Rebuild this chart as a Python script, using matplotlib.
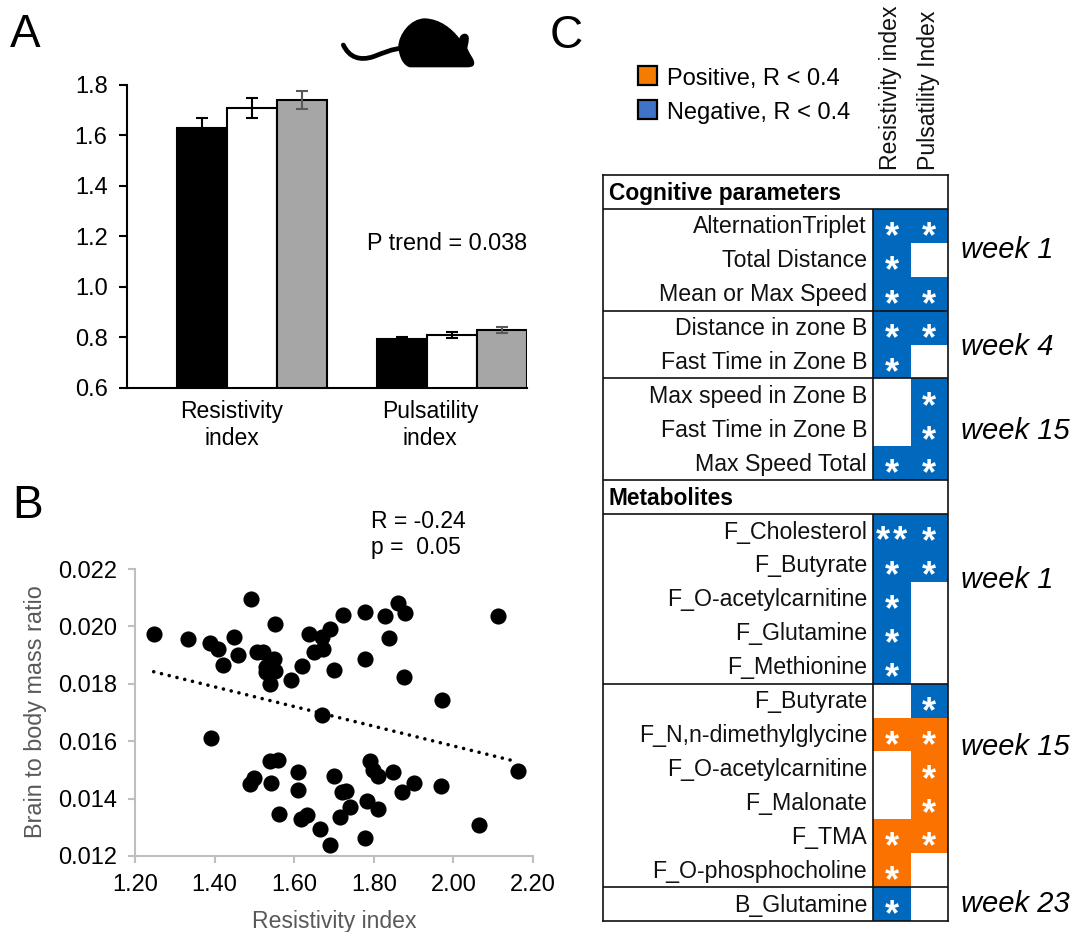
#!/usr/bin/env python3
"""Three panel figure: index bars (A), brain/body scatter (B), correlation table (C)."""
import matplotlib
matplotlib.use("Agg")
import numpy as np
import matplotlib.pyplot as plt
from matplotlib.path import Path
from matplotlib.patches import PathPatch, Rectangle

plt.rcParams["font.family"] = ["Liberation Sans", "DejaVu Sans"]

W, H = 1074, 932

# ------------------------------------------------------------------
# Panel A
bar_groups = ["Resistivity\nindex", "Pulsatility\nindex"]
bar_black = [1.63, 0.795]
bar_white = [1.71, 0.81]
bar_grey = [1.74, 0.828]
err_black = [0.04, 0.008]
err_white = [0.04, 0.012]
err_grey = [0.036, 0.012]
a_ticks = [0.6, 0.8, 1.0, 1.2, 1.4, 1.6, 1.8]

# Panel B
ri_top = [1.248, 1.333, 1.389, 1.409, 1.421, 1.448, 1.459, 1.491, 1.507, 1.522, 1.529, 1.55,
          1.551, 1.529, 1.552, 1.54, 1.592, 1.619, 1.637, 1.649, 1.673, 1.671, 1.689, 1.70,
          1.722, 1.778, 1.779, 1.829, 1.838, 1.861, 1.879, 1.876, 2.112, 1.971, 1.67, 1.39, 2.163]
ratio_top = [.01973, .01955, .01941, .01922, .01865, .01964, .01901, .02097, .01912, .01912,
             .01859, .01888, .02008, .01842, .01843, .01799, .01813, .01862, .01973, .01912,
             .0192, .01962, .01991, .01848, .02038, .02049, .01887, .02035, .01958, .02081,
             .02045, .01822, .02036, .01744, .01692, .01612, .01497]
ri_low = [1.54, 1.56, 1.61, 1.498, 1.489, 1.541, 1.61, 1.561, 1.617, 1.631, 1.666, 1.689, 1.701,
          1.721, 1.731, 1.739, 1.714, 1.778, 1.782, 1.81, 1.791, 1.799, 1.81, 1.849, 1.87, 1.90,
          1.968, 2.064]
ratio_low = [.01531, .01534, .01491, .01473, .01451, .01456, .01429, .01347, .01329, .01342,
             .01294, .0124, .01479, .01422, .01427, .01371, .01337, .01264, .01393, .01365,
             .01531, .01499, .01478, .01491, .01422, .01455, .01445, .01309]
trend_x = [1.247, 2.144]
trend_y = [.01842, .01534]
b_xticks = [1.2, 1.4, 1.6, 1.8, 2.0, 2.2]
b_yticks = [.012, .014, .016, .018, .020, .022]

# Panel C  (n = negative, p = positive, doubled = two stars, "" = not significant)
row_labels = ["Cognitive parameters", "AlternationTriplet", "Total Distance", "Mean or Max Speed",
              "Distance in zone B", "Fast Time in Zone B", "Max speed in Zone B", "Fast Time in Zone B",
              "Max Speed Total", "Metabolites", "F_Cholesterol", "F_Butyrate", "F_O-acetylcarnitine",
              "F_Glutamine", "F_Methionine", "F_Butyrate", "F_N,n-dimethylglycine",
              "F_O-acetylcarnitine", "F_Malonate", "F_TMA", "F_O-phosphocholine", "B_Glutamine"]
ri_corr = ["", "n", "n", "n", "n", "n", "", "", "n", "", "nn", "n", "n", "n", "n",
           "", "p", "", "", "p", "p", "n"]
pi_corr = ["", "n", "", "n", "n", "", "n", "n", "n", "", "n", "n", "", "", "",
           "n", "p", "p", "p", "p", "", ""]
header_rows = [0, 9]
section_lines = [1, 4, 6, 9, 10, 15, 21]
column_names = ["Resistivity index", "Pulsatility Index"]
week_names = ["week 1", "week 4", "week 15", "week 1", "week 15", "week 23"]
week_pos = [250, 347, 431, 580, 747, 904]

BLUE, ORANGE = "#0069BE", "#FB7200"


def px_axes(fig, left, top, right, bottom):
    return fig.add_axes([left / W, 1 - bottom / H, (right - left) / W, (bottom - top) / H])


fig = plt.figure(figsize=(W / 100, H / 100), dpi=100)

# ---------- A: bars ----------
ax = px_axes(fig, 127, 85, 527, 388)
x = np.arange(2)
w = 0.25
for off, vals, errs, col, ecol in [(-w, bar_black, err_black, "black", "black"),
                                   (0, bar_white, err_white, "white", "black"),
                                   (w, bar_grey, err_grey, "#A6A6A6", "#595959")]:
    ax.bar(x + off, vals, width=w, color=col, edgecolor="black", lw=1.5, zorder=2)
    ax.errorbar(x + off, vals, yerr=errs, fmt="none", ecolor=ecol, elinewidth=1.5,
                capsize=4.5, capthick=1.5, zorder=3)
ax.set_xlim(-0.624, 1.376)
ax.set_ylim(0.6, 1.8)
ax.set_yticks(a_ticks)
ax.set_yticklabels([f"{t:.1f}" for t in a_ticks], fontsize=17)
ax.set_xticks([])
ax.tick_params(axis="y", length=6, width=1.5, pad=8)
for s in ("top", "right"):
    ax.spines[s].set_visible(False)
for s in ("left", "bottom"):
    ax.spines[s].set_linewidth(1.5)

# ---------- B: scatter ----------
ax = px_axes(fig, 135, 569, 533, 856)
ax.scatter(ri_top + ri_low, ratio_top + ratio_low, s=135, color="black", lw=0, clip_on=False, zorder=3)
ax.plot(trend_x, trend_y, color="black", lw=2.6, linestyle=(0, (0.01, 2.2)), dash_capstyle="round", zorder=2)
ax.set_xlim(1.2, 2.2)
ax.set_ylim(0.012, 0.022)
ax.set_xticks(b_xticks)
ax.set_xticklabels([f"{t:.2f}" for t in b_xticks], fontsize=17)
ax.set_yticks(b_yticks)
ax.set_yticklabels([f"{t:.3f}" for t in b_yticks], fontsize=17)
ax.tick_params(length=5, width=1.5, color="#BFBFBF", pad=8)
for s in ("top", "right"):
    ax.spines[s].set_visible(False)
for s in ("left", "bottom"):
    ax.spines[s].set_linewidth(1.5)
    ax.spines[s].set_color("#BFBFBF")

# ---------- C: table ----------
ax = px_axes(fig, 603, 175, 948, 921)
n_rows = len(row_labels)
ax.set_xlim(-7.2, 2)
ax.set_ylim(n_rows, 0)
ax.set_xticks([])
ax.set_yticks([])
for s in ax.spines.values():
    s.set_linewidth(1.2)
    s.set_color("#111111")
    s.set_zorder(6)

for r, lab in enumerate(row_labels):
    if r in header_rows:
        ax.text(-7.04, r + 0.55, lab, fontsize=16.4, fontweight="bold", ha="left", va="center")
        continue
    ax.text(-0.16, r + 0.53, lab, fontsize=16.7, ha="right", va="center", color="#111111")
    for c, code in enumerate((ri_corr[r], pi_corr[r])):
        if not code:
            continue
        ax.barh(r + 0.5, 1, left=c, height=1, lw=0, color=BLUE if code[0] == "n" else ORANGE, zorder=1)
        ax.text(c + 0.5, r + 0.85, "\u200a".join("*" * len(code)), fontsize=26, color="white", fontweight="bold",
                ha="center", va="center", zorder=3)

ax.hlines(section_lines, -7.2, 2, color="#111111", lw=1.2, zorder=5)
ax.vlines(0, 1, 9, color="#111111", lw=1.2, zorder=5)
ax.vlines(0, 10, n_rows, color="#111111", lw=1.2, zorder=5)

# ---------- overlay in pixel coordinates: letters, notes, legend, mouse ----------
ov = fig.add_axes([0, 0, 1, 1], facecolor="none")
ov.set_xlim(0, W)
ov.set_ylim(H, 0)
ov.axis("off")

for lab, px, py in [("A", 10, 47), ("B", 12, 518), ("C", 550, 48)]:
    ov.text(px, py, lab, fontsize=33, va="baseline")

ov.text(367, 250, "P trend = 0.038", fontsize=16.8, va="baseline")
ov.text(371, 528, "R = -0.24", fontsize=16.5, va="baseline")
ov.text(371, 554, "p =  0.05", fontsize=16.5, va="baseline")

for lab, px in zip(bar_groups, (232, 430)):
    ov.text(px, 445, lab, fontsize=16.5, ha="center", va="baseline", linespacing=1.2, multialignment="center")

ov.text(334, 928, "Resistivity index", fontsize=16.6, color="#595959", ha="center", va="baseline")
ov.text(36, 712, "Brain to body mass ratio", fontsize=16.8, color="#595959", rotation=90, ha="center", va="center")

# legend
for lab, col, top in [("Positive, R < 0.4", "#F57C00", 66), ("Negative, R < 0.4", "#3F73C8", 100)]:
    ov.add_patch(Rectangle((638, top), 18.5, 18.5, facecolor=col, edgecolor="black", lw=1.6))
    ov.text(667, top + 12.5, lab, fontsize=17, va="center")

for lab, px in zip(column_names, (890, 928)):
    ov.text(px, 170, lab, fontsize=16.6, rotation=90, ha="center", va="bottom", color="#111111")

for lab, py in zip(week_names, week_pos):
    ov.text(961, py, lab, fontsize=21, style="italic", va="center")

# mouse icon, traced in pixels
def mx(v):
    return 330 + v / 3


def my(v):
    return 5 + v / 3


body = [(205, 125), (205, 90), (240, 40), (285, 40), (330, 42), (365, 70), (388, 100),
        (392, 85), (410, 80), (416, 95), (418, 110), (412, 125), (412, 130),
        (420, 150), (436, 165), (432, 178), (430, 186), (420, 187), (410, 187),
        (330, 187), (240, 187), (240, 187), (225, 184), (208, 165), (205, 125)]
codes = [Path.MOVETO] + [Path.CURVE4] * (len(body) - 1)
ov.add_patch(PathPatch(Path([(mx(a), my(b)) for a, b in body], codes), facecolor="black", lw=0))
tail = [(40, 120), (58, 158), (90, 168), (130, 155), (165, 142), (185, 132), (215, 130)]
tail_codes = [Path.MOVETO] + [Path.CURVE4] * 6
ov.add_patch(PathPatch(Path([(mx(a), my(b)) for a, b in tail], tail_codes), facecolor="none",
                       edgecolor="black", lw=3.4, capstyle="round"))

fig.savefig("out.png", dpi=100)
